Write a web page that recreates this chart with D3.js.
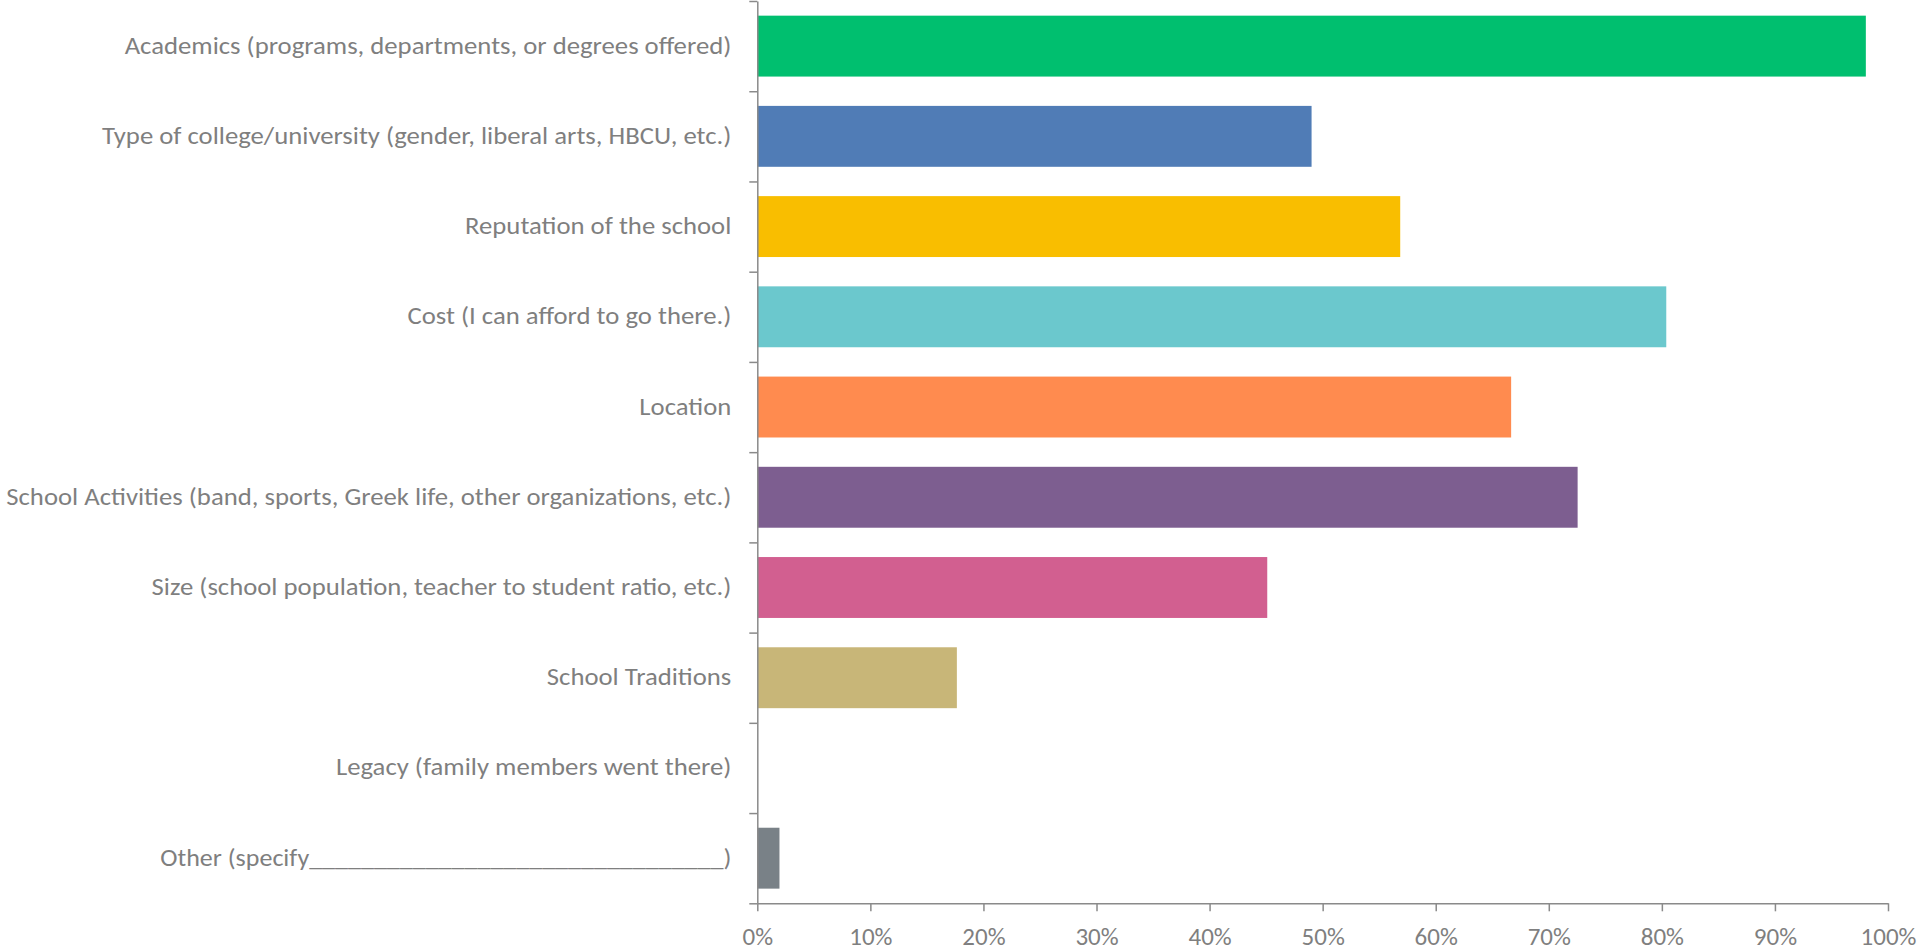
<!DOCTYPE html>
<html>
<head>
<meta charset="utf-8">
<script src="https://cdn.jsdelivr.net/npm/d3@7"></script>
<style>
  body { margin: 0; background: #fff; }
  svg { display: block; }
  text { font-family: Carlito, Lato, "Open Sans", sans-serif; fill: #7f7f7f; }
</style>
</head>
<body>
<svg id="chart" width="1921" height="951"></svg>
<script>
// Categories, top to bottom
var categories = [
    "Academics (programs, departments, or degrees offered)",
    "Type of college/university (gender, liberal arts, HBCU, etc.)",
    "Reputation of the school",
    "Cost (I can afford to go there.)",
    "Location",
    "School Activities (band, sports, Greek life, other organizations, etc.)",
    "Size (school population, teacher to student ratio, etc.)",
    "School Traditions",
    "Legacy (family members went there)",
    "Other (specify________________________________)"
];

// percent of responses
var values = [98.04, 49.02, 56.86, 80.39, 66.67, 72.55, 45.10, 17.65, 0, 1.96];

var barColors = ["#00bf6f", "#507cb6", "#f9be00", "#6bc8cd", "#ff8b4f",
                 "#7d5e90", "#d25f90", "#c8b678", "#a8a8a8", "#798187"];

var xTicks = [0, 10, 20, 30, 40, 50, 60, 70, 80, 90, 100];

var svg = d3.select("#chart");

var margin = {top: 1, left: 757.3},
    width = 1888 - margin.left,
    height = 903.3 - margin.top;

var g = svg.append("g")
    .attr("transform", "translate(" + margin.left + "," + margin.top + ")");

var x = d3.scaleLinear().domain([0, 100]).range([0, width]);

var y = d3.scaleBand()
    .domain(categories)
    .range([0, height])
    .paddingInner(0.325)
    .paddingOuter(0.1625);

// category boundaries for the ticks between bars
var yEdge = d3.scaleLinear().domain([0, categories.length]).range([0, height]);

// Bars
g.selectAll(".bar")
    .data(categories)
    .enter().append("rect")
    .attr("class", "bar")
    .attr("x", 0)
    .attr("y", function(d) { return y(d); })
    .attr("width", function(d, i) { return x(values[i]); })
    .attr("height", y.bandwidth())
    .attr("fill", function(d, i) { return barColors[i]; });

// X axis
var xAxis = g.append("g")
    .attr("transform", "translate(0," + height + ")")
    .call(d3.axisBottom(x).tickValues(xTicks).tickSize(8).tickSizeOuter(0)
        .tickFormat(function(d) { return d + "%"; }));

// Y axis (ticks between categories)
var yAxis = g.append("g")
    .call(d3.axisLeft(yEdge).tickValues(d3.range(0, categories.length + 1))
        .tickSize(8).tickSizeOuter(0).tickFormat(""));

[xAxis, yAxis].forEach(function(ax) {
    ax.select(".domain").attr("stroke", "#8a8a8a").attr("stroke-width", 1.5);
    ax.selectAll(".tick line").attr("stroke", "#8a8a8a").attr("stroke-width", 1.5);
});

xAxis.selectAll(".tick text")
    .attr("y", 41.5)
    .attr("dy", 0)
    .style("font-size", "25px")
    .attr("fill", "#7f7f7f");

// Category labels
var labels = g.selectAll(".cat-label")
    .data(categories)
    .enter().append("text")
    .attr("class", "cat-label")
    .attr("x", -26)
    .attr("y", function(d) { return y(d) + y.bandwidth() / 2; })
    .attr("dy", "0.3em")
    .attr("text-anchor", "end")
    .style("font-size", "25px")
    .text(function(d) { return d; });

// squeeze labels a little if the fallback font runs wider than the original
var longest = d3.max(labels.nodes(), function(n) { return n.getComputedTextLength(); });
var k = 725 / longest;
labels.each(function(d) {
    var w = this.getComputedTextLength() * k;
    if (d.indexOf("Other") === 0) w = Math.min(w, 571);  // underscores run wide
    d3.select(this).attr("textLength", w).attr("lengthAdjust", "spacingAndGlyphs");
});
</script>
</body>
</html>
